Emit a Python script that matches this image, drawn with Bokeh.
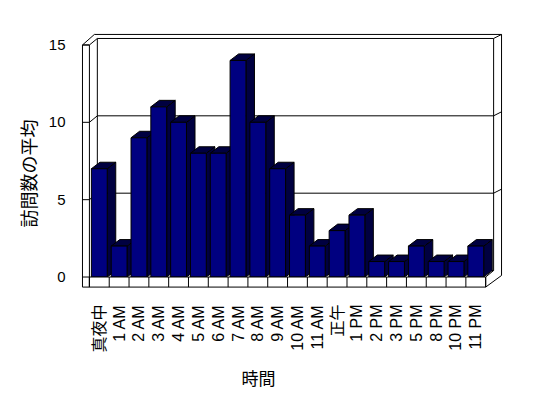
import math
from bokeh.plotting import figure
from bokeh.models import Range1d, FixedTicker, Title
from bokeh.embed import file_html
from bokeh.resources import INLINE

# ---- data ----
categories = ["真夜中", "1 AM", "2 AM", "3 AM", "4 AM", "5 AM", "6 AM", "7 AM", "8 AM", "9 AM",
              "10 AM", "11 AM", "正午", "1 PM", "2 PM", "3 PM", "5 PM", "8 PM", "10 PM", "11 PM"]
visits = [7, 2, 9, 11, 10, 8, 8, 14, 10, 7, 4, 2, 3, 4, 1, 1, 2, 1, 1, 2]
y_ticks = [0, 5, 10, 15]
grid_values = [5, 10]
x_title = "時間"
y_title = "訪問数の平均"

# ---- styling / geometry constants ----
n = len(categories)
ymax = 15
DX, DY = 0.40, 0.42      # depth of walls
BDX, BDY = 0.43, 0.42    # depth of bars
TX, TY = 0.40, 0.26      # thickness of back slab
WALL = 0.35              # left wall thickness
FLOOR = 0.65             # floor thickness
BAR_L, BAR_R = 0.1, 0.9
FRONT = "#000080"
SHADE = "#000040"

x0, x1 = -0.5, n + 1.0
y0, y1 = -1.0, ymax + 1.0
FW, FH = 426, 263
BL, BT = 79, 29

p = figure(frame_width=FW, frame_height=FH, min_border_left=BL, min_border_right=35,
           min_border_top=BT, min_border_bottom=100,
           x_range=Range1d(x0, x1), y_range=Range1d(y0, y1),
           output_backend="svg", toolbar_location=None, tools="")
p.outline_line_color = None
p.grid.visible = False
p.background_fill_color = "white"
p.border_fill_color = "white"

LC = "black"

# back wall
p.quad(left=[DX], right=[n + DX], bottom=[DY], top=[ymax + DY],
       fill_color="white", line_color=LC, line_width=1)
# back slab outline (top and right)
p.line([-WALL, -WALL + 0.6, n + DX + TX, n + DX + TX, n],
       [ymax, ymax + DY + TY, ymax + DY + TY, 0.1, -FLOOR], line_color=LC, line_width=1)
p.line([n + DX, n + DX + TX], [ymax + DY, ymax + DY + TY], line_color=LC)
p.line([0, DX], [ymax, ymax + DY], line_color=LC)
# floor top right edge
p.line([n, n + DX], [0, DY], line_color=LC)

# gridlines
for v in grid_values:
    p.line([0, DX, n + DX, n + DX + TX], [v, v + DY, v + DY, v + DY + TY], line_color=LC, line_width=1)

# left wall front face
p.quad(left=[-WALL], right=[0], bottom=[-FLOOR], top=[ymax], fill_color="white", line_color=LC)
# ticks on wall front
p.segment(x0=[-WALL] * len(y_ticks), y0=y_ticks, x1=[0] * len(y_ticks), y1=y_ticks, line_color=LC)

# bars
xs_side, ys_side, xs_top, ys_top = [], [], [], []
for i, v in enumerate(visits):
    l, r = i + BAR_L, i + BAR_R
    xs_side.append([r, r, r + BDX, r + BDX])
    ys_side.append([0, v, v + BDY, BDY])
    xs_top.append([l, r, r + BDX, l + BDX])
    ys_top.append([v, v, v + BDY, v + BDY])
p.patches(xs_side, ys_side, fill_color=SHADE, line_color=LC, line_width=1)
p.patches(xs_top, ys_top, fill_color=SHADE, line_color=LC, line_width=1)
p.quad(left=[i + BAR_L for i in range(n)], right=[i + BAR_R for i in range(n)],
       bottom=[0] * n, top=visits, fill_color=FRONT, line_color=LC, line_width=1)

# floor front face with separators
p.quad(left=[0], right=[n], bottom=[-FLOOR], top=[0], fill_color="white", line_color=LC)
p.segment(x0=list(range(n + 1)), y0=[-FLOOR] * (n + 1), x1=list(range(n + 1)), y1=[0] * (n + 1),
          line_color=LC)

# axes (labels only)
p.yaxis.ticker = FixedTicker(ticks=y_ticks)
p.yaxis.axis_line_color = None
p.yaxis.major_tick_line_color = None
p.yaxis.minor_tick_line_color = None
p.yaxis.major_label_standoff = 8
p.yaxis.major_label_text_font = "Liberation Sans"
p.yaxis.major_label_text_font_size = "15px"
p.yaxis.major_label_text_color = "black"

p.xaxis.ticker = FixedTicker(ticks=[i + 0.5 for i in range(n)])
p.xaxis.major_label_overrides = {i + 0.5: c for i, c in enumerate(categories)}
p.xaxis.major_label_orientation = math.pi / 2
p.xaxis.axis_line_color = None
p.xaxis.major_tick_line_color = None
p.xaxis.minor_tick_line_color = None
p.xaxis.major_label_standoff = 6
p.xaxis.major_label_text_font = "Liberation Sans, Noto Sans CJK JP"
p.xaxis.major_label_text_font_size = "16px"
p.xaxis.major_label_text_color = "black"

p.add_layout(Title(text=x_title, align="left", offset=162, standoff=15,
                   text_font="Noto Sans CJK JP", text_font_size="17px",
                   text_font_style="normal", text_color="black"), "below")
p.add_layout(Title(text=y_title, align="left", offset=65, standoff=10,
                   text_font="Noto Sans CJK JP", text_font_size="18px",
                   text_font_style="normal", text_color="black"), "left")

open("out.html", "w").write(file_html(p, INLINE))
